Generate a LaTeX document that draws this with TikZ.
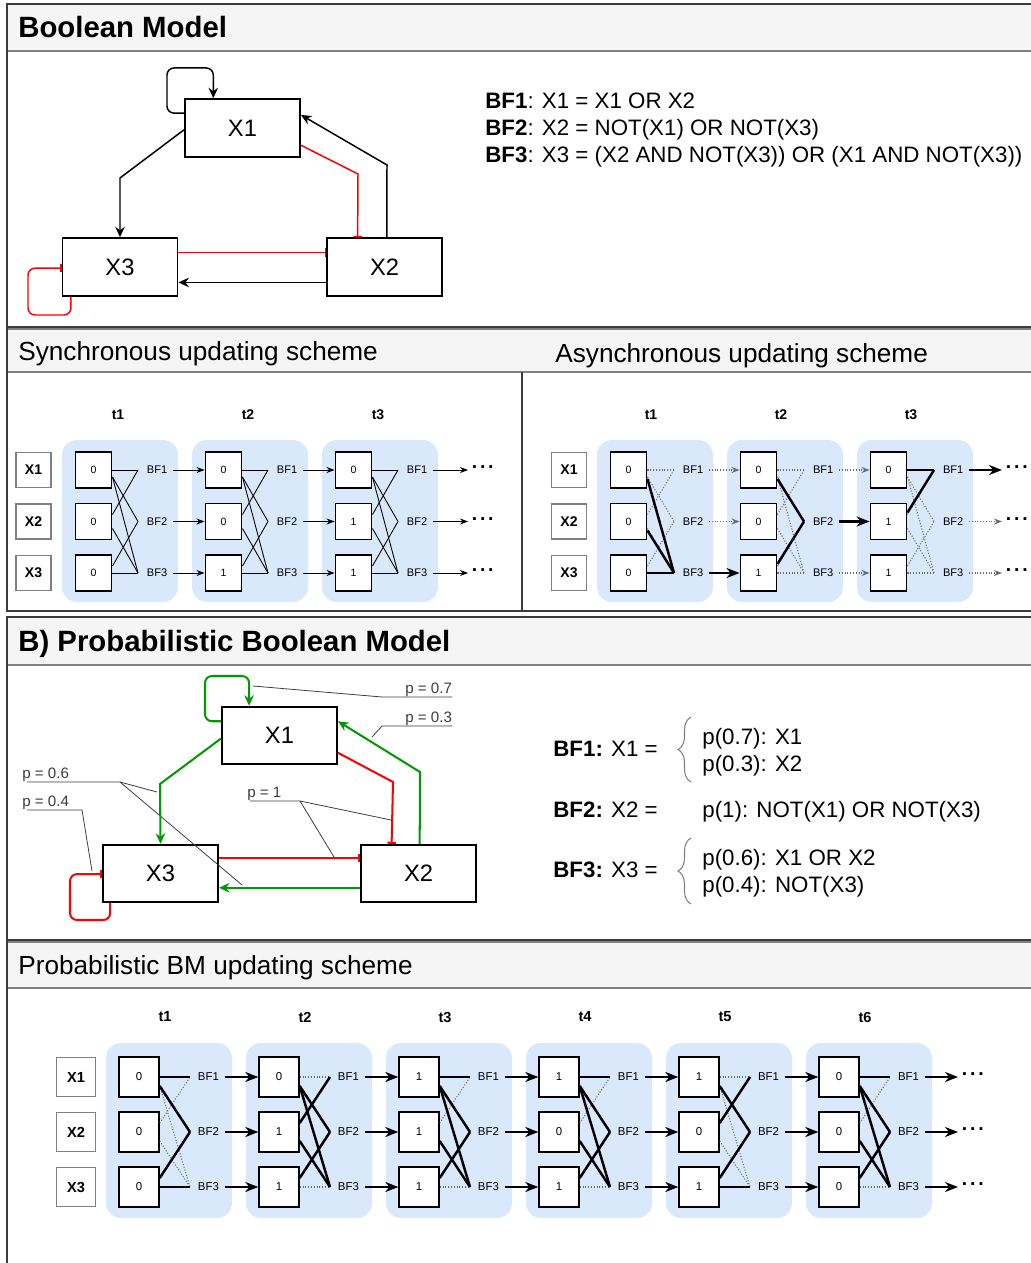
\documentclass[tikz,border=0pt]{standalone}
\usepackage{fontspec}
\setmainfont{Liberation Sans}
\usetikzlibrary{arrows.meta,calc,decorations.pathreplacing}

\newcommand{\pxfont}[1]{\fontsize{#1}{#1}\selectfont}

\definecolor{bandgray}{HTML}{F5F5F5}
\definecolor{stepblue}{HTML}{DAE8FC}
\definecolor{linegray}{HTML}{3C3C3C}
\definecolor{actgreen}{HTML}{009900}
\definecolor{inhred}{HTML}{FF0000}

\tikzset{
  panel/.style={draw=linegray, line width=1.1pt},
  band/.style={fill=bandgray, draw=gray, line width=0.8pt},
  ttl/.style={anchor=base west, inner sep=0pt, font=\bfseries\pxfont{16.7}},
  sub/.style={anchor=base west, inner sep=0pt, font=\pxfont{14.9}},
  eq/.style={anchor=base west, inner sep=0pt, font=\pxfont{12.7}},
  gene/.style={draw, line width=1.1pt, minimum width=2.3cm, minimum height=1.15cm, inner sep=0pt, font=\pxfont{13.5}},
  act/.style={line width=0.85pt, -{Stealth[length=2.1mm,width=1.9mm]}},
  grn/.style={act, line width=1.15pt, draw=actgreen},
  inh/.style={line width=0.85pt, draw=inhred, -{Bar[width=1.7mm]}},
  pinh/.style={inh, line width=1.15pt},
  plab/.style={anchor=south west, inner sep=0pt, text=linegray, font=\pxfont{8.6}},
  lead/.style={draw=linegray, line width=0.45pt},
  curly/.style={decorate, decoration={brace, amplitude=2.6mm}, draw=gray, line width=0.6pt},
  tbox/.style={fill=stepblue, rounded corners=3mm},
  tlab/.style={font=\bfseries\pxfont{#1}},
  xlab/.style={draw=gray, line width=0.6pt, minimum size=#1, inner sep=0pt},
  stbox/.style={draw, fill=white, line width=1.1pt, minimum size=#1, inner sep=0pt},
  bflab/.style={anchor=west, inner sep=1.5pt},
  more/.style={anchor=west, inner sep=2pt, font=\bfseries\pxfont{11}},
  thinE/.style={line width=0.5pt},
  weakE/.style={line width=0.6pt, draw=gray!85!black, densely dotted},
  strongE/.style={line width=1.4pt},
  thinA/.style={thinE, shorten <=1.5pt, -{Stealth[length=1.6mm,width=1.2mm]}},
  weakA/.style={weakE, shorten <=1.5pt, -{Stealth[length=1.6mm,width=1.2mm]}},
  strongA/.style={strongE, shorten <=1.5pt, -{Stealth[length=2.6mm,width=2mm]}},
}

\begin{document}
\begin{tikzpicture}[x=0.02cm, y=-0.02cm]
\useasboundingbox (0,0) rectangle (1030,1263);

% panels and header bands
\filldraw[band] (7,4) rectangle (1050,51);
\filldraw[band] (7,329) rectangle (1050,372);
\filldraw[band] (7,617) rectangle (1050,665);
\filldraw[band] (7,942) rectangle (1050,988);
\draw[panel] (7,4) rectangle (1050,611);
\draw[panel] (7,327) -- (1050,327);
\draw[panel] (522,372) -- (522,611);
\draw[panel] (7,617) rectangle (1050,1290);
\draw[panel] (7,940) -- (1050,940);

\node[ttl] (tbm) at (18,38) {Boolean Model};
\node[sub] (tsync) at (18,360) {Synchronous updating scheme};
\node[sub] (tasync) at (555,363) {Asynchronous updating scheme};
\node[ttl] (tpbm) at (18,651) {B) Probabilistic Boolean Model};
\node[sub] (tpscheme) at (18,974) {Probabilistic BM updating scheme};

% Boolean model
\node[gene] (X1) at (242.5,128) {X1};
\node[gene] (X3) at (120,267) {X3};
\node[gene] (X2) at (384.5,267) {X2};
\draw[act, rounded corners=4pt] ($(X1.north west)!.25!(X1.south west)$) -| (167,68) -| ($(X1.north west)!.25!(X1.north east)$);
\draw[act] ($(X1.north west)!.53!(X1.south west)$) -- (120,178) -- (X3.north);
\draw[inh] ($(X1.north east)!.79!(X1.south east)$) -- (358,174) -- ($(X2.north west)!.27!(X2.north east)$);
\draw[act] ($(X2.north west)!.52!(X2.north east)$) -- (387,165) -- ($(X1.north east)!.28!(X1.south east)$);
\draw[inh] ($(X3.north east)!.26!(X3.south east)$) -- ($(X2.north west)!.26!(X2.south west)$);
\draw[act] ($(X2.north west)!.76!(X2.south west)$) -- ($(X3.north east)!.76!(X3.south east)$);
\draw[inh, rounded corners=4pt] ($(X3.south west)!.08!(X3.south east)$) |- (28,315) |- ($(X3.north west)!.52!(X3.south west)$);

\node[eq] (bf1) at (485,109) {\textbf{BF1}: X1 = X1 OR X2};
\node[eq] (bf2) at (485,136) {\textbf{BF2}: X2 = NOT(X1) OR NOT(X3)};
\node[eq] (bf3) at (485,163) {\textbf{BF3}: X3 = (X2 AND NOT(X3)) OR (X1 AND NOT(X3))};

% synchronous scheme
\foreach \r/\y in {1/470,2/521.5,3/573}
  \node[xlab=0.7cm, font=\bfseries\pxfont{8}] (sx\r) at (33.5,\y) {X\r};
\foreach \i/\a/\b/\c in {1/0/0/0,2/0/0/1,3/0/1/1}{
  \pgfmathsetmacro\L{62+130*(\i-1)}
  \fill[tbox] (\L,440) rectangle ++(116,162);
  \node[tlab=8] (st\i) at (\L+56,415) {t\i};
  \foreach \r/\y/\v in {1/470/\a,2/521.5/\b,3/573/\c}{
    \node[stbox=0.72cm, font=\pxfont{6}] (s\i\r) at (\L+31.5,\y) {\v};
    \coordinate (sf\i\r) at (\L+76,\y);
    \node[bflab, font=\pxfont{6.3}] (sb\i\r) at (\L+82,\y) {BF\r};
  }
  \foreach \r/\t in {1/1,2/1,1/2,3/2,1/3,2/3,3/3}{
    \pgfmathsetmacro\off{7*sign(\t-\r)}
    \draw[thinE] ($(s\i\r.east)+(0,\off)$) -- (sf\i\t);
  }
}
\foreach \i/\j in {1/2,2/3}
  \foreach \r in {1,2,3}
    \draw[thinA] (sb\i\r.east) -- (s\j\r.west);
\foreach \r/\y in {1/470,2/521.5,3/573}{
  \node[more] (sd\r) at (468,\y) {·\kern1pt·\kern1pt·};
  \draw[thinA] (sb3\r.east) -- (sd\r.west);
}

% asynchronous scheme
\foreach \r/\y in {1/470,2/521.5,3/573}
  \node[xlab=0.7cm, font=\bfseries\pxfont{8}] (ax\r) at (569,\y) {X\r};
\foreach \i/\a/\b/\c/\hot in {1/0/0/0/{1/3,2/3,3/3},2/0/0/1/{1/2,3/2},3/0/1/1/{1/1,2/1}}{
  \pgfmathsetmacro\L{597+130*(\i-1)}
  \fill[tbox] (\L,440) rectangle ++(116,162);
  \node[tlab=8] (at\i) at (\L+54,415) {t\i};
  \foreach \r/\y/\v in {1/470/\a,2/521.5/\b,3/573/\c}{
    \node[stbox=0.72cm, font=\pxfont{6}] (a\i\r) at (\L+31.5,\y) {\v};
    \coordinate (af\i\r) at (\L+77,\y);
    \node[bflab, font=\pxfont{6.3}] (ab\i\r) at (\L+83,\y) {BF\r};
  }
  \foreach \r/\t in {1/1,2/1,1/2,3/2,1/3,2/3,3/3}{
    \pgfmathsetmacro\off{7*sign(\t-\r)}
    \draw[weakE] ($(a\i\r.east)+(0,\off)$) -- (af\i\t);
  }
  \foreach \r/\t in \hot{
    \pgfmathsetmacro\off{9*sign(\t-\r)}
    \draw[strongE] ($(a\i\r.east)+(0,\off)$) -- (af\i\t);
  }
}
\foreach \i/\j/\s in {1/2/3,2/3/2}
  \foreach \r in {1,2,3}{
    \ifnum\r=\s\relax
      \draw[strongA] (ab\i\r.east) -- (a\j\r.west);
    \else
      \draw[weakA] (ab\i\r.east) -- (a\j\r.west);
    \fi
  }
\foreach \r/\y in {1/470,2/521.5,3/573}{
  \node[more] (ad\r) at (1002,\y) {·\kern1pt·\kern1pt·};
  \ifnum\r=1\relax
    \draw[strongA] (ab3\r.east) -- (ad\r.west);
  \else
    \draw[weakA] (ab3\r.east) -- (ad\r.west);
  \fi
}

% probabilistic Boolean model
\node[gene] (P1) at (279.5,735.5) {X1};
\node[gene] (P3) at (160.5,873.5) {X3};
\node[gene] (P2) at (418.5,873.5) {X2};

% probability labels (leaders under the edges)
\node[plab] (p07) at (405,697) {p = 0.7};
\node[plab] (p03) at (405,726) {p = 0.3};
\node[plab] (p06) at (22,782) {p = 0.6};
\node[plab] (p04) at (22,810) {p = 0.4};
\node[plab] (p10) at (247,801) {p = 1};
\draw[lead] (253,686) -- (382,697) -- (p07.south east);
\draw[lead] (372,737) -- (382,726) -- (p03.south east);
\draw[lead] (157,792) -- (120,782) -- (27,782);
\draw[lead] (242,885) -- (120,782);
\draw[lead] (92,871) -- (82,810) -- (27,810);
\draw[lead] (391,820) -- (300,801) -- (250,801);
\draw[lead] (334,857) -- (300,801);

\draw[grn, rounded corners=4pt] ($(P1.north west)!.26!(P1.south west)$) -| (205,676) -| ($(P1.north west)!.24!(P1.north east)$);
\draw[grn] ($(P1.north west)!.55!(P1.south west)$) -- (160,784) -- (P3.north);
\draw[pinh] ($(P1.north east)!.79!(P1.south east)$) -- (393,782) -- ($(P2.north west)!.27!(P2.north east)$);
\draw[grn] ($(P2.north west)!.51!(P2.north east)$) -- (420,772) -- ($(P1.north east)!.26!(P1.south east)$);
\draw[pinh] ($(P3.north east)!.24!(P3.south east)$) -- ($(P2.north west)!.24!(P2.south west)$);
\draw[grn] ($(P2.north west)!.74!(P2.south west)$) -- ($(P3.north east)!.74!(P3.south east)$);
\draw[pinh, rounded corners=4pt] ($(P3.south west)!.07!(P3.south east)$) |- (70,920) |- ($(P3.north west)!.51!(P3.south west)$);

\node[eq] (pbf1) at (553,756) {\textbf{BF1:} X1 =};
\node[eq] (pbf2) at (553,817) {\textbf{BF2:} X2 =};
\node[eq] (pbf3) at (553,877) {\textbf{BF3:} X3 =};
\node[eq] (q07) at (702,744) {p(0.7): X1};
\node[eq] (q03) at (702,771) {p(0.3): X2};
\node[eq] (q1) at (702,817) {p(1): NOT(X1) OR NOT(X3)};
\node[eq] (q06) at (702,865) {p(0.6): X1 OR X2};
\node[eq] (q04) at (702,892) {p(0.4): NOT(X3)};
\draw[curly] (691,782) -- (691,717);
\draw[curly] (691,904) -- (691,838);

% probabilistic updating scheme
\foreach \r/\y in {1/1077,2/1132,3/1187}
  \node[xlab=0.78cm, font=\bfseries\pxfont{8.3}] (px\r) at (76,\y) {X\r};
\foreach \i/\a/\b/\c/\hot in {1/0/0/0/{1/1,1/2,3/2,3/3},
    2/0/1/1/{2/1,1/2,3/2,1/3,2/3},
    3/1/1/1/{1/1,1/2,3/2,1/3,2/3},
    4/1/0/1/{1/1,1/2,3/2,1/3,2/3},
    5/1/0/1/{2/1,1/2,3/2,3/3},
    6/0/0/0/{1/1,1/2,3/2,1/3,2/3}}{
  \pgfmathsetmacro\L{106+140*(\i-1)}
  \fill[tbox] (\L,1043) rectangle ++(126,175);
  \node[tlab=8.3] (pt\i) at (\L+59,1017) {t\i};
  \foreach \r/\y/\v in {1/1077/\a,2/1132/\b,3/1187/\c}{
    \node[stbox=0.79cm, font=\pxfont{6.5}] (p\i\r) at (\L+33,\y) {\v};
    \coordinate (pf\i\r) at (\L+84,\y);
    \node[bflab, font=\pxfont{6.5}] (pb\i\r) at (\L+89,\y) {BF\r};
  }
  \foreach \r/\t in {1/1,2/1,1/2,3/2,1/3,2/3,3/3}{
    \pgfmathsetmacro\off{9*sign(\t-\r)}
    \draw[weakE] ($(p\i\r.east)+(0,\off)$) -- (pf\i\t);
  }
  \foreach \r/\t in \hot{
    \pgfmathsetmacro\off{9*sign(\t-\r)}
    \draw[strongE] ($(p\i\r.east)+(0,\off)$) -- (pf\i\t);
  }
}
\foreach \i/\j in {1/2,2/3,3/4,4/5,5/6}
  \foreach \r in {1,2,3}
    \draw[strongA] (pb\i\r.east) -- (p\j\r.west);
\foreach \r/\y in {1/1077,2/1132,3/1187}{
  \node[more] (pd\r) at (958,\y) {·\kern1pt·\kern1pt·};
  \draw[strongA] (pb6\r.east) -- (pd\r.west);
}
\end{tikzpicture}
\end{document}
